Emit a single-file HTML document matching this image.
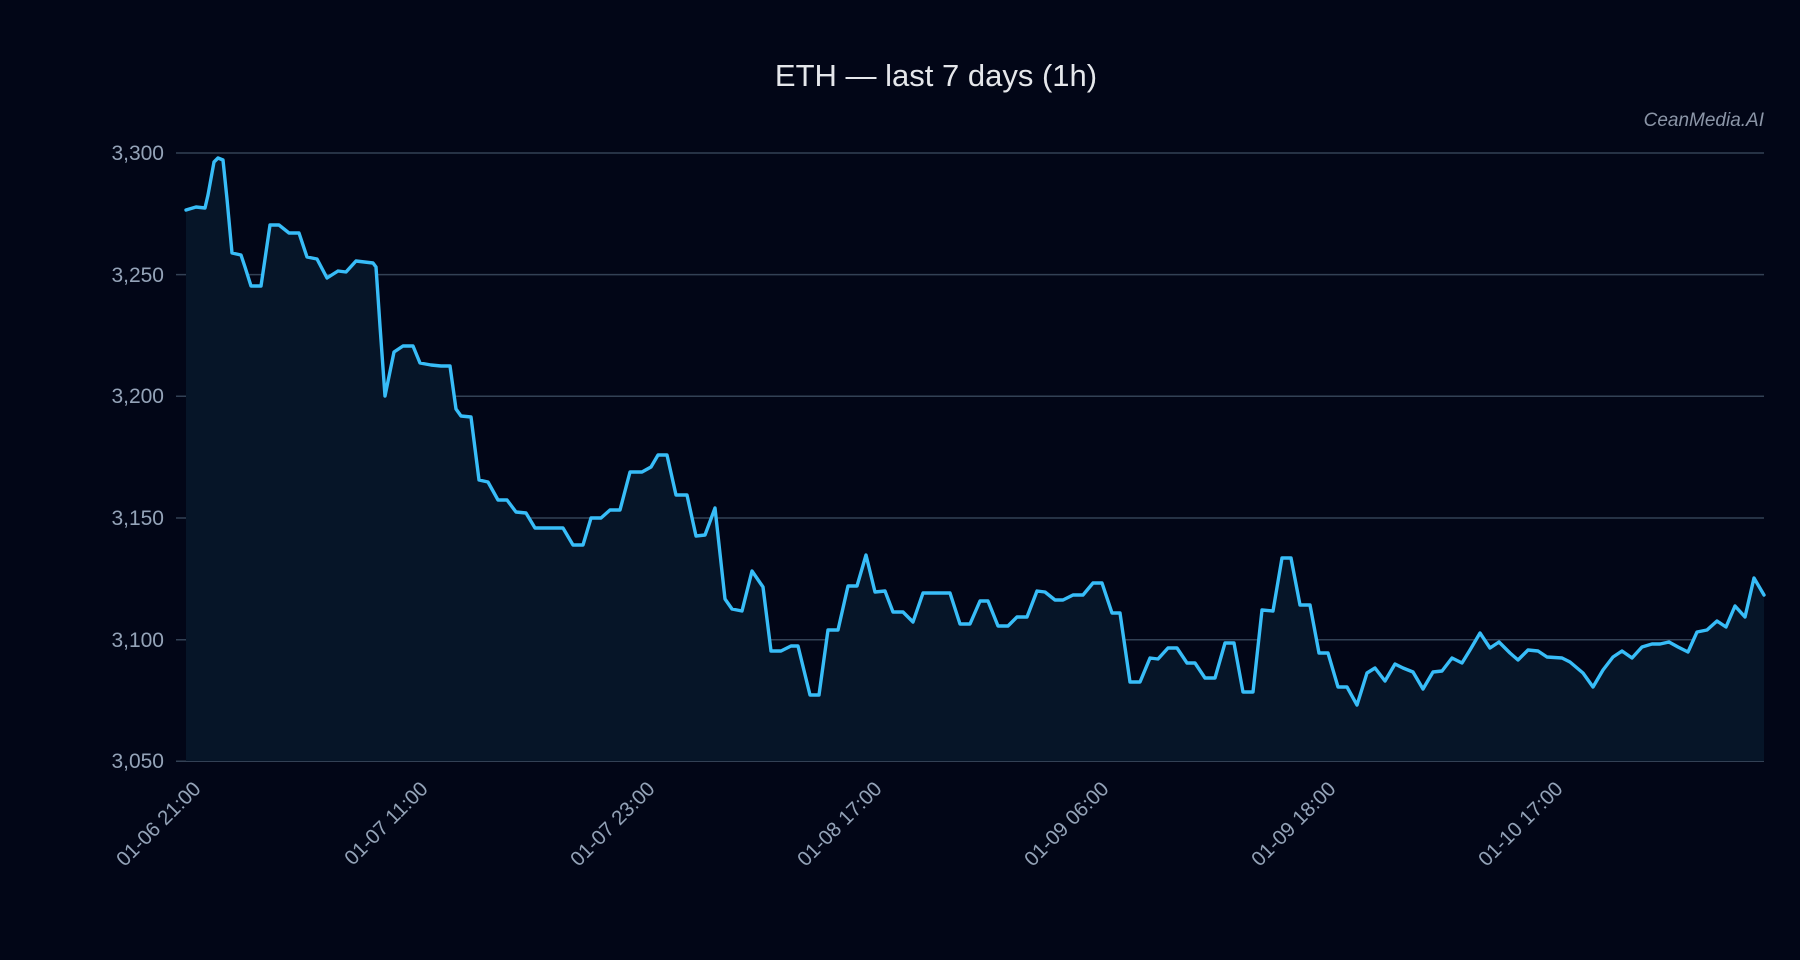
<!DOCTYPE html>
<html><head><meta charset="utf-8"><style>
html,body{margin:0;padding:0;background:#020617;}
svg{display:block;}
text{font-family:"Liberation Sans",sans-serif;}
</style></head><body>
<svg width="1800" height="960" viewBox="0 0 1800 960" xmlns="http://www.w3.org/2000/svg">
<rect width="1800" height="960" fill="#020617"/>
<text x="936" y="86" text-anchor="middle" font-size="31" fill="#e5e7eb">ETH — last 7 days (1h)</text>
<text x="1764" y="126" text-anchor="end" font-size="19" font-style="italic" fill="#8b95a7">CeanMedia.AI</text>
<g stroke="#334155" stroke-width="1.5">
<line x1="176" x2="1764" y1="153" y2="153"/>
<line x1="176" x2="1764" y1="274.6" y2="274.6"/>
<line x1="176" x2="1764" y1="396.3" y2="396.3"/>
<line x1="176" x2="1764" y1="518" y2="518"/>
<line x1="176" x2="1764" y1="639.7" y2="639.7"/>
<line x1="176" x2="1764" y1="761.3" y2="761.3"/>
</g>
<g font-size="21" fill="#94a3b8" text-anchor="end">
<text x="164" y="160">3,300</text>
<text x="164" y="282">3,250</text>
<text x="164" y="403">3,200</text>
<text x="164" y="525">3,150</text>
<text x="164" y="647">3,100</text>
<text x="164" y="768">3,050</text>
</g>
<polygon fill="#061528" points="186,761 186,210 196,207 205,208 208,195 214,162 218,158 223,160 227,199 232,253 241,255 245,267 251,286 261,286 265,259 270,225 279,225 289,233 299,233 307,257 317,259 327,278 338,271 346,272 356,261 373,263 376,267 380,326 385,396 394,352 403,346 413,346 420,363 431,365 441,366 450,366 456,409 461,416 471,417 479,480 488,482 498,500 507,500 516,512 526,513 535,528 548,528 563,528 573,545 583,545 591,518 601,518 610,510 620,510 630,472 642,472 651,467 658,455 667,455 676,495 687,495 696,536 705,535 715,508 725,599 732,609 742,611 752,571 763,587 771,651 781,651 791,646 798,646 810,695 819,695 828,630 838,630 848,586 857,586 866,555 875,592 885,591 893,612 903,612 913,622 923,593 950,593 960,624 970,624 980,601 988,601 998,626 1008,626 1017,617 1027,617 1037,591 1045,592 1055,600 1063,600 1073,595 1083,595 1093,583 1102,583 1112,613 1120,613 1130,682 1140,682 1150,658 1158,659 1168,648 1177,648 1187,663 1195,663 1205,678 1215,678 1225,643 1234,643 1243,692 1253,692 1262,610 1273,611 1282,558 1291,558 1300,605 1310,605 1319,653 1328,653 1338,687 1347,687 1357,705 1367,673 1375,668 1385,681 1395,664 1403,668 1413,672 1423,689 1433,672 1442,671 1452,658 1462,663 1470,650 1480,633 1490,648 1499,642 1510,653 1518,660 1528,650 1538,651 1547,657 1562,658 1570,662 1583,673 1593,687 1603,670 1613,657 1622,651 1632,658 1642,647 1652,644 1660,644 1669,642 1678,647 1688,652 1697,632 1707,630 1717,621 1726,627 1735,606 1745,617 1754,578 1764,595 1764,761"/>
<polyline fill="none" stroke="#38bdf8" stroke-width="3.4" stroke-linejoin="round" stroke-linecap="round" points="186,210 196,207 205,208 208,195 214,162 218,158 223,160 227,199 232,253 241,255 245,267 251,286 261,286 265,259 270,225 279,225 289,233 299,233 307,257 317,259 327,278 338,271 346,272 356,261 373,263 376,267 380,326 385,396 394,352 403,346 413,346 420,363 431,365 441,366 450,366 456,409 461,416 471,417 479,480 488,482 498,500 507,500 516,512 526,513 535,528 548,528 563,528 573,545 583,545 591,518 601,518 610,510 620,510 630,472 642,472 651,467 658,455 667,455 676,495 687,495 696,536 705,535 715,508 725,599 732,609 742,611 752,571 763,587 771,651 781,651 791,646 798,646 810,695 819,695 828,630 838,630 848,586 857,586 866,555 875,592 885,591 893,612 903,612 913,622 923,593 950,593 960,624 970,624 980,601 988,601 998,626 1008,626 1017,617 1027,617 1037,591 1045,592 1055,600 1063,600 1073,595 1083,595 1093,583 1102,583 1112,613 1120,613 1130,682 1140,682 1150,658 1158,659 1168,648 1177,648 1187,663 1195,663 1205,678 1215,678 1225,643 1234,643 1243,692 1253,692 1262,610 1273,611 1282,558 1291,558 1300,605 1310,605 1319,653 1328,653 1338,687 1347,687 1357,705 1367,673 1375,668 1385,681 1395,664 1403,668 1413,672 1423,689 1433,672 1442,671 1452,658 1462,663 1470,650 1480,633 1490,648 1499,642 1510,653 1518,660 1528,650 1538,651 1547,657 1562,658 1570,662 1583,673 1593,687 1603,670 1613,657 1622,651 1632,658 1642,647 1652,644 1660,644 1669,642 1678,647 1688,652 1697,632 1707,630 1717,621 1726,627 1735,606 1745,617 1754,578 1764,595"/>
<g font-size="20.5" fill="#94a3b8" text-anchor="end">
<text transform="translate(202,790) rotate(-45)">01-06 21:00</text>
<text transform="translate(429,790) rotate(-45)">01-07 11:00</text>
<text transform="translate(656,790) rotate(-45)">01-07 23:00</text>
<text transform="translate(883,790) rotate(-45)">01-08 17:00</text>
<text transform="translate(1110,790) rotate(-45)">01-09 06:00</text>
<text transform="translate(1337,790) rotate(-45)">01-09 18:00</text>
<text transform="translate(1564,790) rotate(-45)">01-10 17:00</text>
</g>
</svg>
</body></html>
